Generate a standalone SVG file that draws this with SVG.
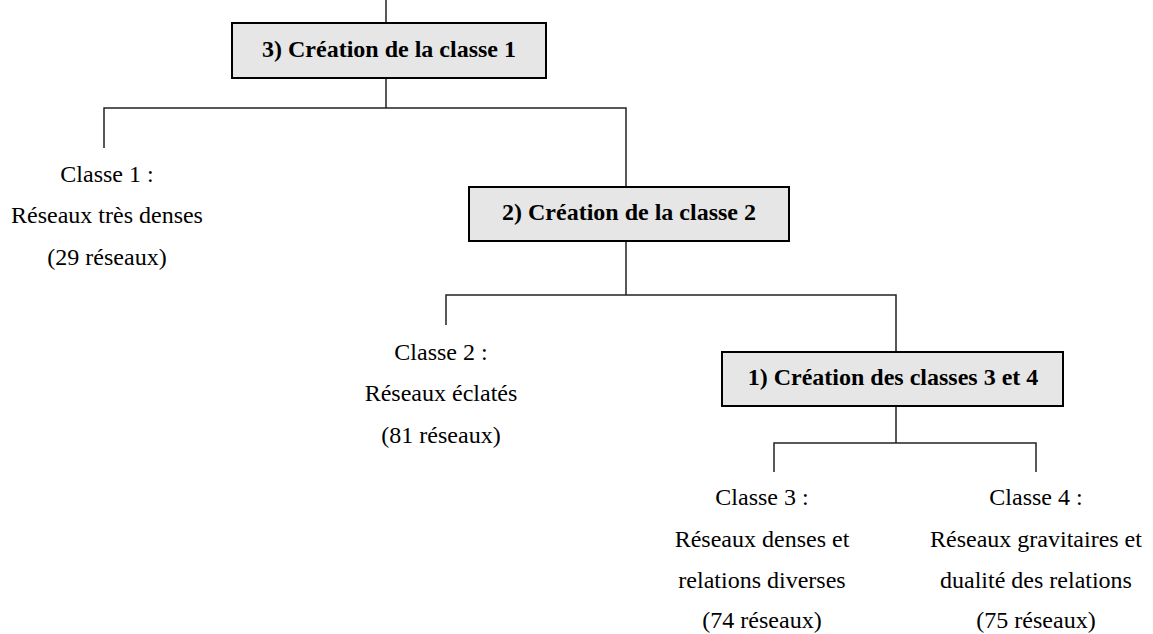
<svg xmlns="http://www.w3.org/2000/svg" width="1153" height="634" viewBox="0 0 1153 634">
<style>
.box{fill:#e6e6e6;stroke:#000;stroke-width:2}
.title{font-family:"Liberation Serif",serif;font-weight:bold;font-size:24px;text-anchor:middle;fill:#000}
.lbl{font-family:"Liberation Serif",serif;font-size:24px;text-anchor:middle;fill:#000}
.conn{fill:none;stroke:#222;stroke-width:1.5}
</style>
<rect width="1153" height="634" fill="#fff"/>
<g id="connectors" class="conn">
<path d="M386,0 V23"/>
<path d="M386,78 V108 M104,148 V108 H626 V187"/>
<path d="M626,241 V295 M446,325 V295 H896 V352"/>
<path d="M896,406 V443 M774,472 V443 H1036 V472"/>
</g>
<g id="step3">
<rect class="box" x="232" y="23" width="314" height="55"/>
<text class="title" x="389" y="57">3) Création de la classe 1</text>
</g>
<g id="step2">
<rect class="box" x="469" y="187" width="320" height="54"/>
<text class="title" x="629" y="220">2) Création de la classe 2</text>
</g>
<g id="step1">
<rect class="box" x="722" y="352" width="341" height="54"/>
<text class="title" x="893" y="385">1) Création des classes 3 et 4</text>
</g>
<g id="classe1">
<text class="lbl" x="107" y="182">Classe 1 :</text>
<text class="lbl" x="107" y="223">Réseaux très denses</text>
<text class="lbl" x="107" y="265">(29 réseaux)</text>
</g>
<g id="classe2">
<text class="lbl" x="441" y="360">Classe 2 :</text>
<text class="lbl" x="441" y="401">Réseaux éclatés</text>
<text class="lbl" x="441" y="443">(81 réseaux)</text>
</g>
<g id="classe3">
<text class="lbl" x="762" y="505">Classe 3 :</text>
<text class="lbl" x="762" y="547">Réseaux denses et</text>
<text class="lbl" x="762" y="588">relations diverses</text>
<text class="lbl" x="762" y="628">(74 réseaux)</text>
</g>
<g id="classe4">
<text class="lbl" x="1036" y="505">Classe 4 :</text>
<text class="lbl" x="1036" y="547">Réseaux gravitaires et</text>
<text class="lbl" x="1036" y="588">dualité des relations</text>
<text class="lbl" x="1036" y="628">(75 réseaux)</text>
</g>
</svg>
